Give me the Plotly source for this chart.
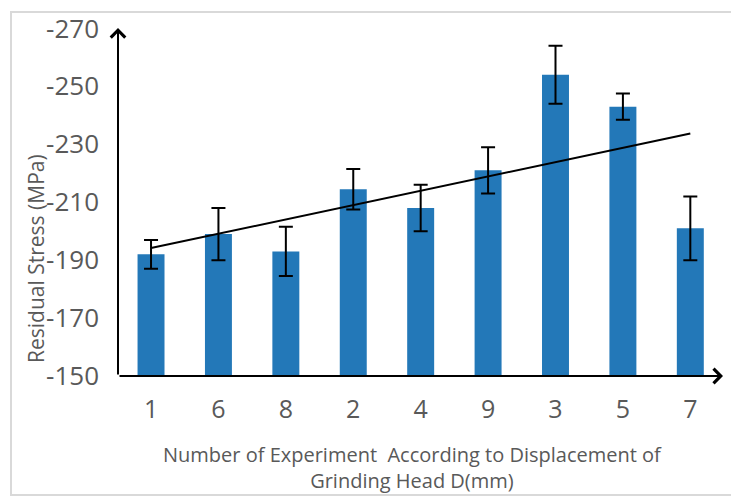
import numpy as np
import plotly.graph_objects as go

experiments = ["1", "6", "8", "2", "4", "9", "3", "5", "7"]
stress = [-192, -199, -193, -214.5, -208, -221, -254, -243, -201]
stress_err = [5, 9, 8.5, 7, 8, 8, 10, 4.5, 11]
y_tick_vals = [-150, -170, -190, -210, -230, -250, -270]
y_tick_text = ["-150", "-170", "-190", "-210", "-230", "-250", "-270"]

# linear trend across experiment order
idx = np.arange(len(stress))
slope, intercept = np.polyfit(idx, stress, 1)
trend = [intercept, intercept + slope * idx[-1]]

FONT = "Open Sans"
GREY = "#595959"

fig = go.Figure()
fig.add_trace(go.Bar(
    x=experiments, y=stress, width=0.4,
    marker=dict(color="#2378b8", line=dict(width=0)),
    error_y=dict(type="data", array=stress_err, color="black", thickness=2, width=7),
    showlegend=False,
))
fig.add_trace(go.Scatter(
    x=[experiments[0], experiments[-1]], y=trend, mode="lines",
    line=dict(color="black", width=2), showlegend=False,
))

W, H = 739, 497
OFF = 8  # page offset of the figure
L, T = 118 - OFF, 27 - OFF
pw, ph = 604, 349
R, B = W - L - pw, H - T - ph

def px_x(p):
    return (p - OFF - L) / pw

def px_y(p):
    return (T + ph - (p - OFF)) / ph

fig.update_layout(
    width=W, height=H,
    margin=dict(l=L, r=R, t=T, b=B, autoexpand=False),
    paper_bgcolor="white", plot_bgcolor="white",
    font=dict(family=FONT, color=GREY),
    xaxis=dict(
        type="category", range=[-0.49, 8.47], showgrid=False, showline=False,
        zeroline=False, ticks="", tickfont=dict(size=25, color=GREY),
        ticklabelstandoff=16, automargin=False,
    ),
    yaxis=dict(
        range=[-150, -270.5], tickvals=y_tick_vals, ticktext=y_tick_text,
        showgrid=False, showline=False, zeroline=False, ticks="",
        tickfont=dict(size=26, color=GREY), ticklabelstandoff=18,
        automargin=False,
    ),
    shapes=[dict(
        type="rect", xref="paper", yref="paper",
        x0=px_x(11), x1=px_x(760), y0=px_y(495), y1=px_y(12),
        line=dict(color="#d9d9d9", width=2), layer="below",
    )],
    annotations=[
        dict(x=0, y=px_y(28), xref="paper", yref="paper", ax=0, ay=348,
             showarrow=True, arrowhead=4, arrowsize=1.4, arrowwidth=2,
             arrowcolor="black", text=""),
        dict(x=px_x(723), y=0, xref="paper", yref="paper", ax=-605, ay=0,
             showarrow=True, arrowhead=4, arrowsize=1.4, arrowwidth=2,
             arrowcolor="black", text=""),
        dict(x=px_x(36), y=px_y(259), xref="paper", yref="paper",
             xanchor="center", yanchor="middle",
             text="Residual Stress (MPa)", textangle=-90, showarrow=False,
             font=dict(size=21, color=GREY, family=FONT)),
        dict(x=px_x(412), y=px_y(467), xref="paper", yref="paper",
             xanchor="center", yanchor="middle",
             text="Number of Experiment  According to Displacement of<br>Grinding Head D(mm)",
             showarrow=False, font=dict(size=20, color=GREY, family=FONT)),
    ],
)

fig.write_html("out.html")
